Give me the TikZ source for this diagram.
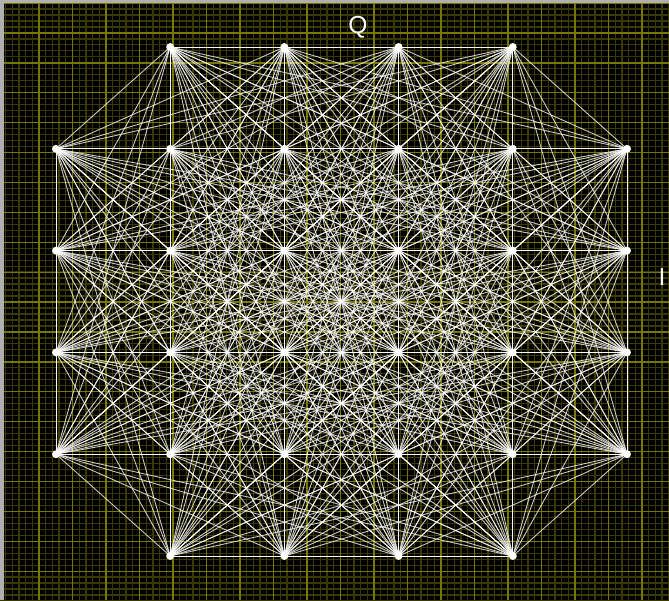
\documentclass[tikz,border=0pt]{standalone}
\usepackage{fontspec}
\setmainfont{Liberation Sans}
\definecolor{gridminor}{RGB}{58,58,0}
\definecolor{gridmajor}{RGB}{120,120,0}
\definecolor{frame}{RGB}{176,176,176}
\begin{document}
\begin{tikzpicture}[
        x=0.02cm, y=-0.02cm,
        qpt/.style={circle, fill=white, inner sep=0pt, minimum size=4.5pt},
        link/.style={draw=white, draw opacity=0.78, line width=0.5pt},
        minorgrid/.style={draw=gridminor, line width=0.7pt},
        majorgrid/.style={draw=gridmajor, line width=0.7pt},
        axislabel/.style={text=white, font=\fontsize{14}{14}\selectfont, inner sep=0pt},
    ]

    % screen background and frame
    \fill[black] (0,0) rectangle (669,600);
    \useasboundingbox (0,0) rectangle (669,600);
    \foreach \k in {0,...,100} \draw[minorgrid] (5.5+6.7*\k,0) -- (5.5+6.7*\k,600);
    \foreach \k in {0,...,100} \draw[minorgrid] (0,3+5.98*\k) -- (669,3+5.98*\k);
    \foreach \k in {0,...,19} \draw[majorgrid] (39+33.5*\k,0) -- (39+33.5*\k,600);
    \foreach \k in {-1,...,19} \draw[majorgrid] (0,33+29.9*\k) -- (669,33+29.9*\k);
    \fill[frame] (0,0) rectangle (4,600);
    \fill[frame] (0,0) rectangle (669,3);

    % constellation points (6x6 without the corners)
    \foreach \c in {0,...,5} {
        \foreach \r in {0,...,5} {
            \pgfmathtruncatemacro{\edge}{((\c==0)||(\c==5))&&((\r==0)||(\r==5))}
            \ifnum\edge=0
                \node[qpt] (p\c\r) at ({56+114.2*\c},{47+101.8*\r}) {};
            \fi
        }
    }

    % every point joined to every other one
    \foreach \c in {0,...,5} {
      \foreach \r in {0,...,5} {
        \foreach \cc in {0,...,5} {
          \foreach \rr in {0,...,5} {
            \pgfmathtruncatemacro{\ok}{(6*\cc+\rr>6*\c+\r)
                &&!(((\c==0)||(\c==5))&&((\r==0)||(\r==5)))
                &&!(((\cc==0)||(\cc==5))&&((\rr==0)||(\rr==5)))}
            \ifnum\ok=1
                \draw[link] (p\c\r.center) -- (p\cc\rr.center);
            \fi
          }
        }
      }
    }

    \node[axislabel] (qlab) at (358,27) {Q};
    \node[axislabel] (ilab) at (662,277) {I};

\end{tikzpicture}
\end{document}
